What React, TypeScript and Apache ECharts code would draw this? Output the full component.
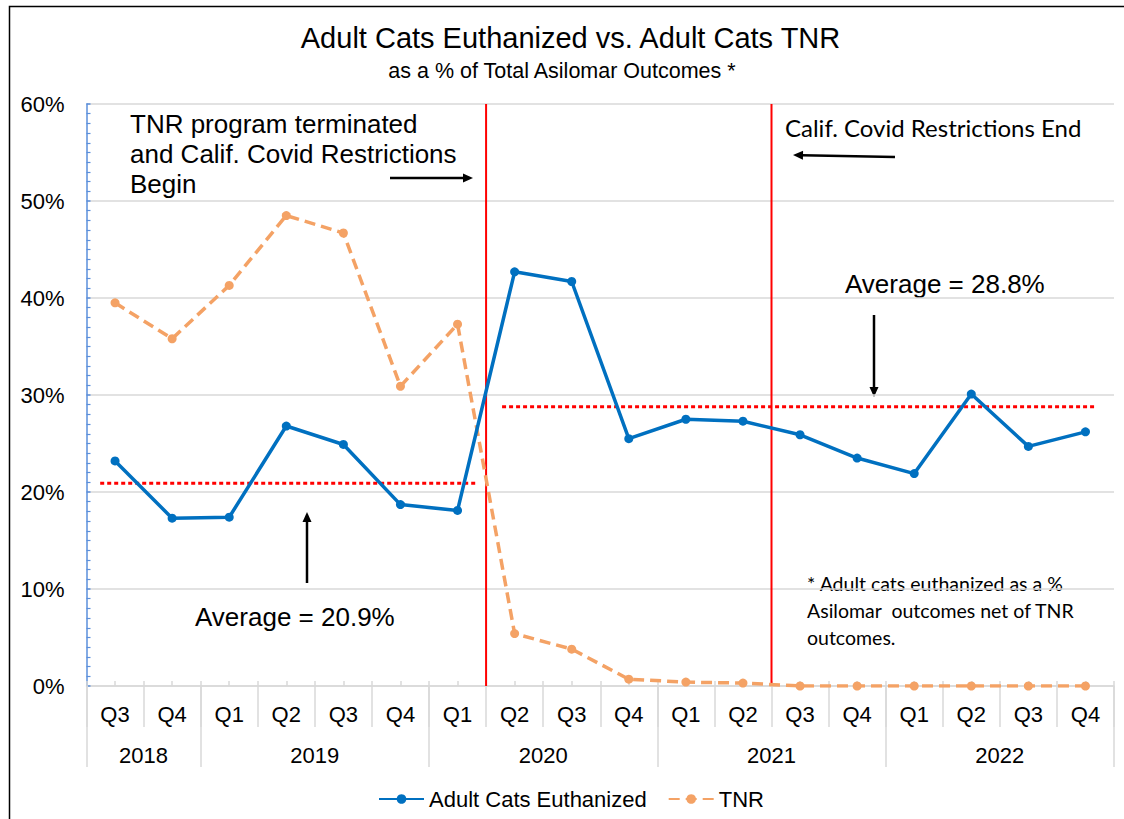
import React, { useEffect, useRef } from 'react';
import * as echarts from 'echarts';

// ---- data ----
const quarters = ['Q3', 'Q4', 'Q1', 'Q2', 'Q3', 'Q4', 'Q1', 'Q2', 'Q3', 'Q4', 'Q1', 'Q2', 'Q3', 'Q4', 'Q1', 'Q2', 'Q3', 'Q4'];
const years = ['2018', '2019', '2020', '2021', '2022'];
const yearCenters = [0.5, 3.5, 7.5, 11.5, 15.5];
const yearBounds = [-0.5, 1.5, 5.5, 9.5, 13.5, 17.5];
const euthanized = [23.2, 17.3, 17.4, 26.8, 24.9, 18.7, 18.1, 42.7, 41.7, 25.5, 27.5, 27.3, 25.9, 23.5, 21.9, 30.1, 24.7, 26.2];
const tnr = [39.5, 35.8, 41.3, 48.5, 46.7, 30.9, 37.3, 5.4, 3.8, 0.7, 0.4, 0.3, 0, 0, 0, 0, 0, 0];
const eventLines = [6.5, 11.5];
const averageValues = [20.9, 28.8];
const averageFrom = [-0.26, 6.78];
const averageTo = [6.35, 17.18];
const yMin = 0;
const yMax = 60;
const yStep = 10;

const SANS = '"Liberation Sans", Arial, sans-serif';
const CAL = 'Lato, "Liberation Sans", sans-serif';

function arrow(x1: number, y1: number, x2: number, y2: number) {
  const dx = x2 - x1;
  const dy = y2 - y1;
  const len = Math.sqrt(dx * dx + dy * dy);
  const ux = dx / len;
  const uy = dy / len;
  const hl = 10;
  const hw = 4.5;
  const bx = x2 - ux * hl;
  const by = y2 - uy * hl;
  return [
    {
      type: 'line',
      shape: { x1, y1, x2: bx + ux * 1, y2: by + uy * 1 },
      style: { stroke: '#000', lineWidth: 2.5 },
    },
    {
      type: 'polygon',
      shape: {
        points: [
          [x2, y2],
          [bx - uy * hw, by + ux * hw],
          [bx + uy * hw, by - ux * hw],
        ],
      },
      style: { fill: '#000' },
    },
  ];
}

function txt(text: string, x: number, y: number, size: number, family: string, align = 'left') {
  return {
    type: 'text',
    x,
    y,
    style: {
      text,
      fill: '#000',
      fontSize: size,
      fontFamily: family,
      textAlign: align,
      verticalAlign: 'middle',
      textVerticalAlign: 'middle',
    },
  };
}

export default function App() {
  const ref = useRef<HTMLDivElement>(null);
  useEffect(() => {
    if (!ref.current) return;
    const chart = echarts.init(ref.current, undefined, { renderer: 'svg' });
    const gray = '#D9D9D9';
    const option: any = {
      animation: false,
      backgroundColor: '#fff',
      grid: { left: 86.5, right: 10, top: 104, bottom: 133, containLabel: false },
      legend: {
        data: ['Adult Cats Euthanized', 'TNR'],
        left: 373,
        top: 783,
        itemWidth: 45,
        itemHeight: 12,
        itemGap: 21,
        textStyle: { fontSize: 22, fontFamily: SANS, color: '#000' },
      },
      xAxis: [
        {
          type: 'category',
          data: quarters,
          position: 'bottom',
          boundaryGap: true,
          axisLine: { show: true, onZero: false, lineStyle: { color: gray, width: 1.5 } },
          axisTick: { show: true, interval: 0, length: 41, lineStyle: { color: gray, width: 1.5 } },
          axisLabel: { interval: 0, fontSize: 22, fontFamily: SANS, color: '#000', margin: 17 },
          splitLine: { show: false },
        },
        {
          type: 'value',
          position: 'bottom',
          min: -0.5,
          max: 17.5,
          interval: 0.5,
          axisLine: { show: false, onZero: false },
          axisTick: { show: true, inside: true, length: 5, lineStyle: { color: gray, width: 1.5 } },
          axisLabel: { show: false },
          splitLine: { show: false },
        },
        {
          type: 'value',
          position: 'bottom',
          min: -0.5,
          max: 17.5,
          axisLine: { show: false, onZero: false },
          axisTick: { show: true, customValues: yearBounds, length: 81, lineStyle: { color: gray, width: 1.5 } },
          axisLabel: {
            show: true,
            customValues: yearCenters,
            formatter: (v: number) => {
              const i = yearCenters.indexOf(v);
              return i >= 0 ? years[i] : '';
            },
            fontSize: 22,
            fontFamily: SANS,
            color: '#000',
            margin: 58,
          },
          splitLine: { show: false },
        },
      ],
      yAxis: {
        type: 'value',
        min: yMin,
        max: yMax,
        interval: yStep,
        axisLine: { show: true, onZero: false, lineStyle: { color: '#5B8FDB', width: 1.5 } },
        axisTick: { show: true, inside: true, length: 4, lineStyle: { color: '#5B8FDB', width: 1.5 } },
        minorTick: { show: true, splitNumber: 10, length: 4, lineStyle: { color: '#5B8FDB', width: 1.2 } },
        axisLabel: { formatter: '{value}%', fontSize: 22, fontFamily: SANS, color: '#000', margin: 22 },
        splitLine: { show: true, lineStyle: { color: gray, width: 1.5 } },
      },
      series: [
        ...eventLines.map((x, i) => ({
          name: 'event' + i,
          type: 'line',
          xAxisIndex: 1,
          data: [
            [x, yMin],
            [x, yMax],
          ],
          symbol: 'none',
          lineStyle: { color: '#FF0000', width: 2 },
          z: 1,
          silent: true,
        })),
        ...averageValues.map((v, i) => ({
          name: 'avg' + i,
          type: 'line',
          xAxisIndex: 1,
          data: [
            [averageFrom[i], v],
            [averageTo[i], v],
          ],
          symbol: 'none',
          lineStyle: { color: '#FF0000', width: 3, type: [4, 3] },
          z: 1,
          silent: true,
        })),
        {
          name: 'Adult Cats Euthanized',
          type: 'line',
          xAxisIndex: 0,
          data: euthanized,
          symbol: 'circle',
          symbolSize: 9,
          itemStyle: { color: '#0070C0' },
          lineStyle: { color: '#0070C0', width: 3.5 },
          z: 3,
        },
        {
          name: 'TNR',
          type: 'line',
          xAxisIndex: 0,
          data: tnr,
          symbol: 'circle',
          symbolSize: 9,
          itemStyle: { color: '#F4A265' },
          lineStyle: { color: '#F4A265', width: 3.5, type: [11, 6] },
          z: 2,
        },
      ],
      graphic: [
        {
          type: 'polyline',
          shape: { points: [[9.5, 819], [9.5, 6.5], [1124, 6.5]] },
          style: { stroke: '#000', lineWidth: 1.5, fill: null },
        },
        txt('Adult Cats Euthanized vs. Adult Cats TNR', 570.5, 38, 29, SANS, 'center'),
        txt('as a % of Total Asilomar Outcomes *', 562, 71, 21.5, SANS, 'center'),
        txt('TNR program terminated', 130, 124, 26, SANS),
        txt('and Calif. Covid Restrictions', 130, 154, 26, SANS),
        txt('Begin', 130, 184, 26, SANS),
        txt('Calif. Covid Restrictions End', 785, 127, 24, CAL),
        txt('Average = 28.8%', 845, 284, 26, SANS),
        txt('Average = 20.9%', 195, 617, 26, SANS),
        txt('* Adult cats euthanized as a %', 807, 583, 19.5, CAL),
        txt('Asilomar  outcomes net of TNR', 807, 610, 19.5, CAL),
        txt('outcomes.', 807, 637, 19.5, CAL),
        ...arrow(390, 178, 473, 178),
        ...arrow(895, 157, 793, 155),
        ...arrow(874, 315, 874, 397),
        ...arrow(307, 583, 307, 512),
      ],
    };
    chart.setOption(option);
    return () => chart.dispose();
  }, []);
  return (
    <div
      ref={ref}
      style={{ position: 'fixed', left: 0, top: 0, width: 1124, height: 819, background: '#fff' }}
    />
  );
}
